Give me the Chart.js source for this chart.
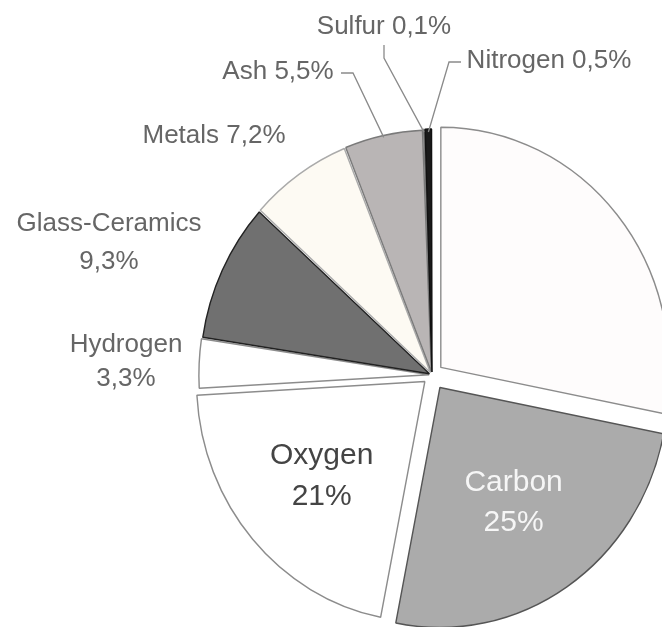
<!DOCTYPE html>
<html>
<head>
<meta charset="utf-8">
<script src="https://cdn.jsdelivr.net/npm/chart.js@4.4.0/dist/chart.umd.min.js"></script>
<style>
  html, body { margin: 0; padding: 0; background: #fff; }
  #wrap { width: 662px; height: 627px; }
</style>
</head>
<body>
<div id="wrap"><canvas id="pieChart" width="662" height="627"></canvas></div>
<script>
// Composition shares (%), clockwise from 12 o'clock. The big white slice has no label.
const categories = ['', 'Carbon', 'Oxygen', 'Hydrogen', 'Glass-Ceramics', 'Metals', 'Ash', 'Sulfur', 'Nitrogen'];
const shares = [28.1, 25, 21, 3.3, 9.3, 7.2, 5.5, 0.1, 0.5];

// Slice look
const fills = ['#fefcfc', '#ababab', '#ffffff', '#ffffff', '#707070', '#fdfaf3', '#b9b5b5', '#999999', '#1a1a1a'];
const edges = ['#8c8c8c', '#555555', '#8c8c8c', '#8c8c8c', '#222222', '#aaaaaa', '#7a7a7a', '#777777', '#111111'];
// how far each slice is pulled out, in px (Chart.js v4 divides arc offset by 4 when drawing)
const offsets = [12, 15, 10, 3, 3, 3, 3, 3, 3];

const SQUEEZE = 0.95; // the photographed pie is a little narrower than tall

// Where each label goes (null = no label)
const labelSpots = [
    null,
    { inside: 0.58, gap: 40, color: '#f6f6f6' },
    { inside: 0.60, gap: 41, color: '#444444' },
    { x: 126, y: 345, gap: 34 },
    { x: 109, y: 224, gap: 38 },
    { x: 214, y: 136 },
    { x: 278, y: 72, leader: [[341, 73], [353, 73]] },
    { x: 384, y: 27, leader: [[384, 45], [384, 58]] },
    { x: 549, y: 61, leader: [[461, 62], [449, 62]] }
];

function pct(v) {
    return String(v).replace('.', ',') + '%';
}

// squeeze the pie horizontally around its centre
const squeezePlugin = {
    id: 'squeeze',
    beforeDatasetsDraw(chart) {
        const cx = chart.getDatasetMeta(0).data[0].x;
        const ctx = chart.ctx;
        ctx.save();
        ctx.translate(cx, 0);
        ctx.scale(SQUEEZE, 1);
        ctx.translate(-cx, 0);
    },
    afterDatasetsDraw(chart) {
        chart.ctx.restore();
    }
};

const labelPlugin = {
    id: 'sliceLabels',
    afterDraw(chart) {
        const ctx = chart.ctx;
        const arcs = chart.getDatasetMeta(0).data;
        ctx.save();
        ctx.textAlign = 'center';
        ctx.textBaseline = 'middle';
        arcs.forEach((arc, i) => {
            const spot = labelSpots[i];
            if (!spot) return;
            const mid = (arc.startAngle + arc.endAngle) / 2;
            const cx = arc.x;
            const toScreen = (r) => [
                cx + SQUEEZE * Math.cos(mid) * r,
                arc.y + Math.sin(mid) * r
            ];
            const name = categories[i];
            const val = pct(shares[i]);
            if (spot.inside) {
                const [px, py] = toScreen(arc.outerRadius * spot.inside + offsets[i]);
                ctx.fillStyle = spot.color;
                ctx.font = '30px "Liberation Sans", Arial, sans-serif';
                ctx.fillText(name, px, py - spot.gap / 2);
                ctx.fillText(val, px, py + spot.gap / 2);
                return;
            }
            ctx.fillStyle = '#666666';
            ctx.font = '26px "Liberation Sans", Arial, sans-serif';
            if (spot.gap) {
                ctx.fillText(name, spot.x, spot.y);
                ctx.fillText(val, spot.x, spot.y + spot.gap);
            } else {
                ctx.fillText(name + ' ' + val, spot.x, spot.y);
            }
            if (spot.leader) {
                const [ex, ey] = toScreen(arc.outerRadius + offsets[i]);
                ctx.strokeStyle = '#8a8a8a';
                ctx.lineWidth = 1.3;
                ctx.beginPath();
                ctx.moveTo(spot.leader[0][0], spot.leader[0][1]);
                ctx.lineTo(spot.leader[1][0], spot.leader[1][1]);
                ctx.lineTo(ex, ey);
                ctx.stroke();
            }
        });
        ctx.restore();
    }
};

function renderPieChart() {
    const ctx = document.getElementById('pieChart');
    if (!ctx) return;
    new Chart(ctx, {
        type: 'pie',
        data: {
            labels: categories,
            datasets: [{
                data: shares,
                backgroundColor: fills,
                borderColor: edges,
                borderWidth: 1.5,
                offset: offsets.map(o => o * 4),
                clip: false
            }]
        },
        options: {
            responsive: false,
            animation: false,
            devicePixelRatio: 1,
            radius: 240,
            layout: { padding: { left: 202, top: 123, right: 0, bottom: 0 } },
            plugins: {
                legend: { display: false },
                tooltip: { enabled: false }
            }
        },
        plugins: [squeezePlugin, labelPlugin]
    });
}

document.addEventListener('DOMContentLoaded', renderPieChart);
</script>
</body>
</html>
